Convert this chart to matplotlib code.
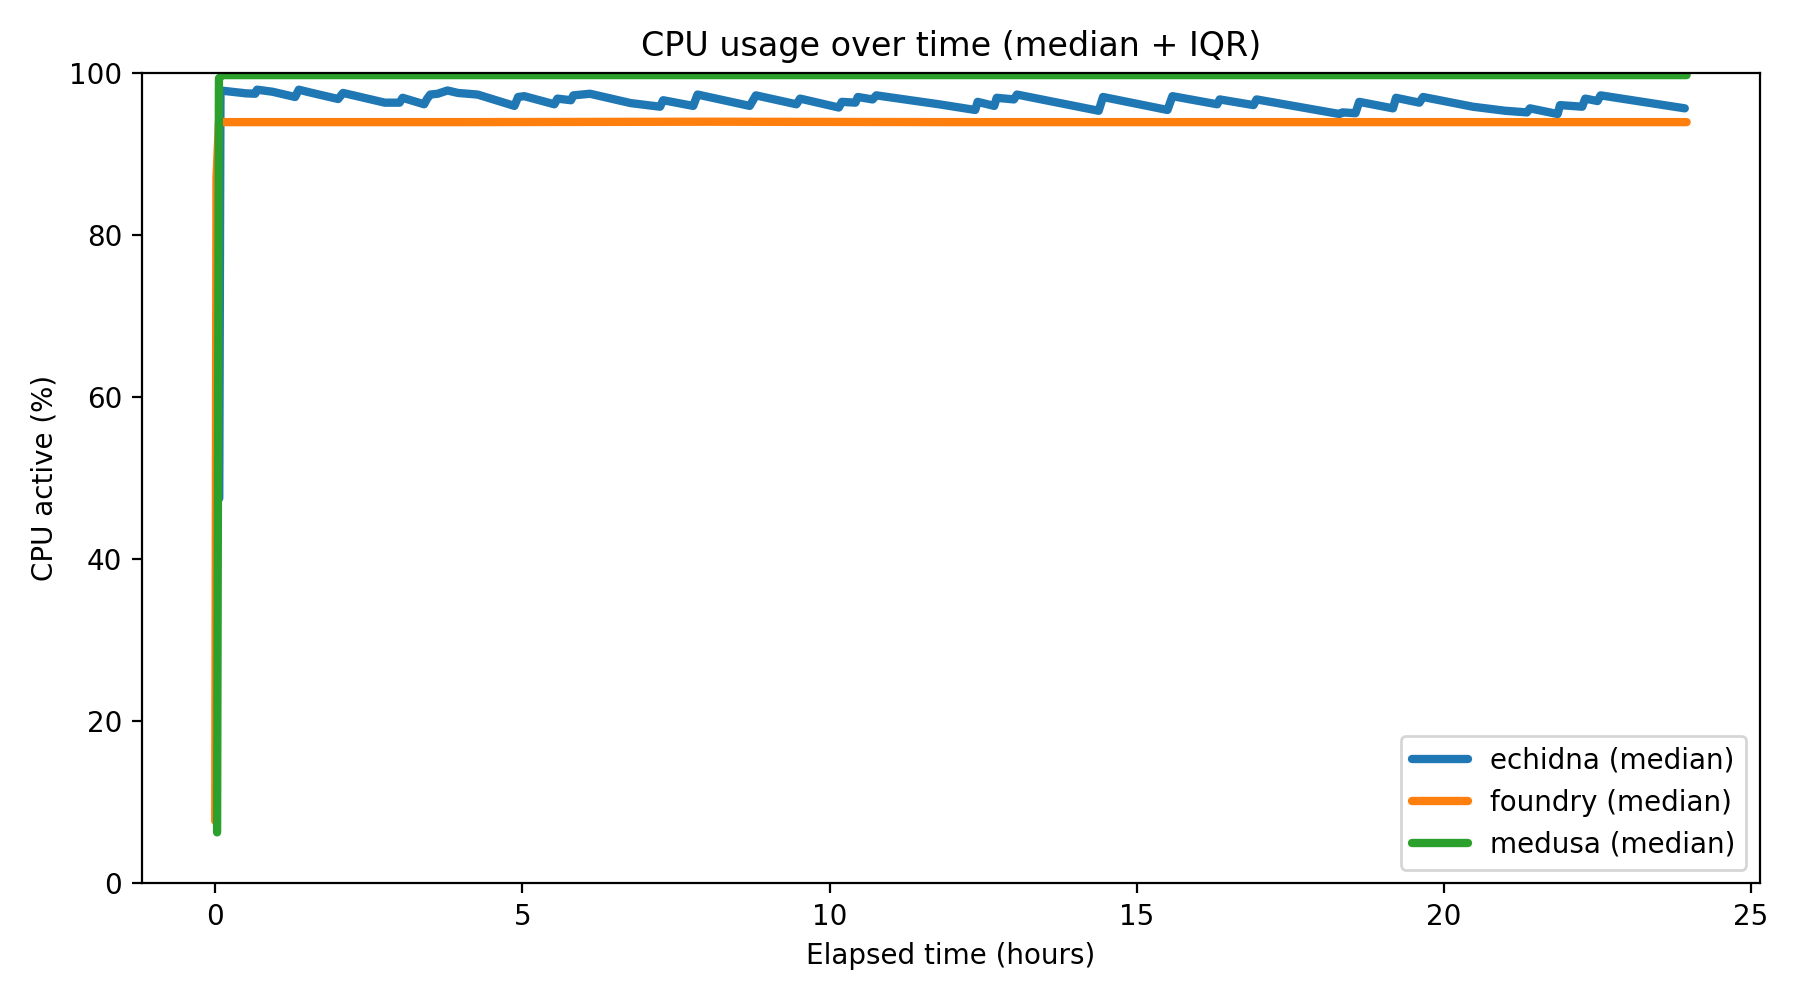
import matplotlib
matplotlib.use("Agg")
import matplotlib.pyplot as plt
import numpy as np

# ---- data ----
echidna_t = [0.065, 0.085, 0.50, 0.65, 0.68, 0.93, 1.30, 1.36, 1.52, 2.00, 2.08, 2.76, 3.00, 3.05,
             3.40, 3.45, 3.50, 3.62, 3.78, 3.95, 4.27, 4.87, 4.93, 5.03, 5.52, 5.57, 5.79, 5.83,
             6.10, 6.76, 7.24, 7.29, 7.78, 7.85, 8.70, 8.80, 9.46, 9.52, 10.15, 10.20, 10.42,
             10.46, 10.70, 10.76, 11.78, 12.37, 12.41, 12.68, 12.72, 13.00, 13.05, 14.38, 14.45,
             15.50, 15.58, 16.31, 16.35, 16.90, 16.95, 18.30, 18.35, 18.56, 18.62, 19.17, 19.22,
             19.60, 19.66, 20.47, 21.00, 21.35, 21.40, 21.85, 21.89, 22.25, 22.30, 22.50, 22.55,
             23.92]
echidna_med = [47.5, 97.8, 97.45, 97.4, 97.9, 97.65, 97.0, 97.9, 97.6, 96.75, 97.5, 96.3, 96.3, 96.9,
               96.1, 96.8, 97.3, 97.4, 97.8, 97.5, 97.3, 95.9, 97.0, 97.1, 96.1, 96.8, 96.6, 97.2,
               97.4, 96.25, 95.8, 96.6, 95.9, 97.3, 95.9, 97.2, 96.1, 96.8, 95.7, 96.4, 96.3,
               97.0, 96.7, 97.2, 96.1, 95.4, 96.4, 95.9, 96.9, 96.7, 97.3, 95.3, 97.0,
               95.4, 97.1, 96.1, 96.7, 96.0, 96.7, 94.9, 95.1, 95.0, 96.4, 95.6, 96.9,
               96.3, 97.0, 95.8, 95.3, 95.1, 95.6, 94.9, 96.0, 95.8, 96.8, 96.5, 97.2,
               95.6]
# IQR half-width around the echidna median at each point
echidna_iqr_half = [0.5, 0.15, 0.15, 0.2, 0.15, 0.15, 0.2, 0.15, 0.15, 0.2, 0.15, 0.2, 0.25, 0.15,
                    0.2, 0.2, 0.15, 0.15, 0.15, 0.15, 0.15, 0.25, 0.2, 0.15, 0.25, 0.2, 0.25, 0.2,
                    0.15, 0.2, 0.3, 0.2, 0.3, 0.2, 0.25, 0.2, 0.25, 0.2, 0.3, 0.25, 0.3,
                    0.2, 0.3, 0.2, 0.2, 0.3, 0.25, 0.3, 0.25, 0.3, 0.2, 0.35, 0.3,
                    0.35, 0.3, 0.3, 0.25, 0.3, 0.25, 0.35, 0.3, 0.35, 0.3, 0.35, 0.3,
                    0.35, 0.25, 0.25, 0.3, 0.35, 0.35, 0.4, 0.35, 0.35, 0.35, 0.35, 0.25,
                    0.2]

foundry_t = [0.00, 0.02, 0.06, 4.0, 8.0, 12.0, 16.0, 20.0, 23.95]
foundry_med = [7.7, 87.0, 93.9, 93.9, 93.95, 93.9, 93.9, 93.9, 93.9]
foundry_iqr_half = [0.3, 0.5, 0.12, 0.12, 0.12, 0.12, 0.12, 0.12, 0.12]

medusa_t = [0.03, 0.06, 0.12, 4.0, 8.0, 12.0, 16.0, 20.0, 23.95]
medusa_med = [6.3, 99.3, 99.7, 99.7, 99.7, 99.7, 99.7, 99.7, 99.7]
medusa_iqr_half = [0.3, 0.2, 0.1, 0.1, 0.1, 0.1, 0.1, 0.1, 0.1]

names = ["echidna", "foundry", "medusa"]
colors = ["#1f77b4", "#ff7f0e", "#2ca02c"]

series = [
    (echidna_t, echidna_med, echidna_iqr_half),
    (foundry_t, foundry_med, foundry_iqr_half),
    (medusa_t, medusa_med, medusa_iqr_half),
]

fig, ax = plt.subplots(figsize=(9, 5), dpi=200)
for name, color, (t, med, half) in zip(names, colors, series):
    t = np.asarray(t)
    med = np.asarray(med)
    half = np.asarray(half)
    ax.fill_between(t, med - half, med + half, color=color, alpha=0.2, linewidth=0)
    ax.plot(t, med, color=color, linewidth=3, solid_capstyle="round",
            label=f"{name} (median)")

ax.set_ylim(0, 100)
ax.set_title("CPU usage over time (median + IQR)", fontsize=12)
ax.set_xlabel("Elapsed time (hours)")
ax.set_ylabel("CPU active (%)")
ax.legend(loc="lower right")
fig.tight_layout()
fig.savefig("out.png", dpi=200)
